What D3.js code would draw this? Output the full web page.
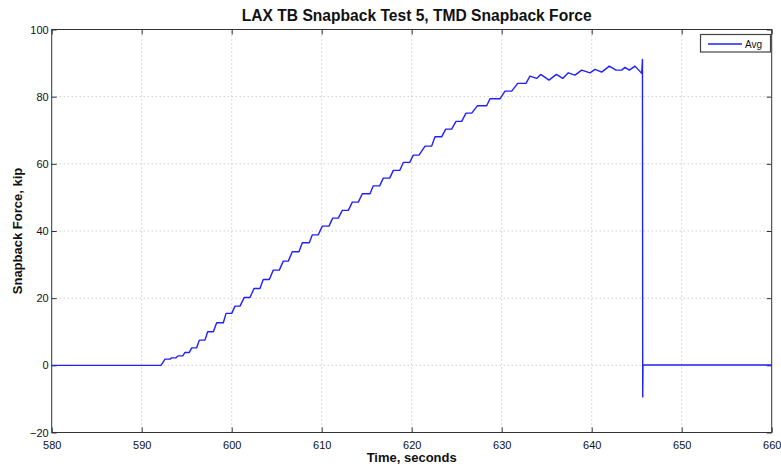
<!DOCTYPE html>
<html>
<head>
<meta charset="utf-8">
<script src="https://cdn.jsdelivr.net/npm/d3@7"></script>
<style>
  html, body { margin: 0; padding: 0; background: #fff; }
  svg { display: block; font-family: "Liberation Sans", Arial, Helvetica, sans-serif; }
</style>
</head>
<body>
<svg id="chart" width="781" height="466"></svg>
<script>
// ---- data ----
const chartTitle = "LAX TB Snapback Test 5, TMD Snapback Force";
const xLabel = "Time, seconds";
const yLabel = "Snapback Force, kip";
const seriesName = "Avg";
const xTicks = [580, 590, 600, 610, 620, 630, 640, 650, 660];
const yTicks = [-20, 0, 20, 40, 60, 80, 100];

const timeSec = [
  580, 592.14, 592.59, 593.14, 593.33, 593.81, 594.07, 594.56, 594.81, 595.29,
  595.56, 596.11, 596.40, 597.03, 597.33, 597.96, 598.33, 599.07, 599.37, 600.00,
  600.37, 600.92, 601.40, 602.03, 602.48, 603.14, 603.51, 604.18, 604.62, 605.29,
  605.73, 606.29, 606.73, 607.48, 607.84, 608.62, 608.96, 609.62, 610.07, 610.81,
  611.22, 611.84, 612.29, 612.96, 613.40, 614.07, 614.51, 615.37, 615.73, 616.44,
  616.84, 617.56, 617.96, 618.67, 619.07, 619.78, 620.18, 620.81, 621.48, 622.22,
  622.59, 623.33, 623.78, 624.44, 624.92, 625.56, 626.03, 626.67, 627.29, 628.33,
  628.70, 629.81, 630.37, 631.11, 631.78, 632.70, 633.14, 633.89, 634.33, 635.26,
  636.07, 636.78, 637.40, 638.14, 638.89, 639.81, 640.37, 641.11, 641.96, 642.70,
  643.33, 643.70, 644.18, 644.81, 645.56, 645.64, 645.67, 645.70, 660
];
const forceKip = [
  0.0, 0.0, 1.85, 1.85, 2.23, 2.23, 2.83, 2.83, 3.84, 3.84,
  5.21, 5.21, 7.50, 7.50, 9.98, 9.98, 12.66, 12.66, 15.46, 15.46,
  17.63, 17.63, 20.22, 20.22, 22.90, 22.90, 25.58, 25.58, 28.35, 28.35,
  31.03, 31.03, 33.80, 33.80, 36.48, 36.48, 38.86, 38.86, 41.45, 41.45,
  43.84, 43.84, 46.13, 46.13, 48.60, 48.60, 51.07, 51.07, 53.45, 53.45,
  55.75, 55.75, 58.04, 58.04, 60.42, 60.42, 62.60, 62.60, 65.28, 65.28,
  68.05, 68.05, 70.34, 70.34, 72.63, 72.63, 75.10, 75.10, 77.28, 77.28,
  79.36, 79.36, 81.65, 81.65, 83.95, 83.95, 86.12, 85.44, 86.63, 84.93,
  86.63, 85.44, 87.10, 86.42, 87.91, 87.10, 88.12, 87.31, 89.10, 87.91,
  87.91, 88.71, 87.91, 89.10, 86.94, 91.10, -9.40, 0.10, 0.10
];

// ---- layout ----
const margin = { left: 51.7, right: 781 - 771.7, top: 29.5, bottom: 466 - 432.5 };
const W = 781, H = 466;
const svg = d3.select("#chart");

const x = d3.scaleLinear().domain([580, 660]).range([margin.left, W - margin.right]);
const y = d3.scaleLinear().domain([-20, 100]).range([H - margin.bottom, margin.top]);

const x0 = x.range()[0], x1 = x.range()[1], y0 = y.range()[0], y1 = y.range()[1];

// grid
const grid = svg.append("g").attr("class", "grid");
grid.selectAll("line.gx").data(xTicks.slice(1, -1)).enter().append("line")
  .attr("x1", d => x(d)).attr("x2", d => x(d)).attr("y1", y0).attr("y2", y1)
  .attr("stroke", "#b8b8b8").attr("stroke-width", 1).attr("stroke-dasharray", "1,3");
grid.selectAll("line.gy").data(yTicks.slice(1, -1)).enter().append("line")
  .attr("y1", d => y(d)).attr("y2", d => y(d)).attr("x1", x0).attr("x2", x1)
  .attr("stroke", "#b8b8b8").attr("stroke-width", 1).attr("stroke-dasharray", "1,3");

// axes (ticks inward on all four sides)
const tickLen = 5;
const fmt = d => d < 0 ? "\u2212" + Math.abs(d) : String(d);
const axB = svg.append("g").attr("transform", `translate(0,${y0})`)
  .call(d3.axisBottom(x).tickValues(xTicks).tickSize(-tickLen).tickPadding(9).tickFormat(fmt));
const axT = svg.append("g").attr("transform", `translate(0,${y1})`)
  .call(d3.axisTop(x).tickValues(xTicks).tickSize(-tickLen).tickFormat(""));
const axL = svg.append("g").attr("transform", `translate(${x0},0)`)
  .call(d3.axisLeft(y).tickValues(yTicks).tickSize(-tickLen).tickPadding(3).tickFormat(fmt));
const axR = svg.append("g").attr("transform", `translate(${x1},0)`)
  .call(d3.axisRight(y).tickValues(yTicks).tickSize(-tickLen).tickFormat(""));
[axB, axT, axL, axR].forEach(a => {
  a.select(".domain").remove();
  a.selectAll(".tick line").attr("stroke", "#333");
  a.selectAll("text").attr("font-size", 11).attr("fill", "#111")
    .attr("font-family", "'Liberation Sans', Arial, sans-serif");
});
axB.selectAll("text").attr("dy", "0.7em");

// box
svg.append("rect").attr("x", x0).attr("y", y1).attr("width", x1 - x0).attr("height", y0 - y1)
  .attr("fill", "none").attr("stroke", "#333").attr("stroke-width", 1);

// line
const pts = timeSec.map((t, i) => [t, forceKip[i]]);
svg.append("path").datum(pts)
  .attr("d", d3.line().x(d => x(d[0])).y(d => y(d[1])))
  .attr("fill", "none").attr("stroke", "#2020ff").attr("stroke-width", 1.4)
  .attr("stroke-linejoin", "round");

// titles
svg.append("text").attr("x", (x0 + x1) / 2 + 5).attr("y", 21).attr("text-anchor", "middle")
  .attr("font-size", 15.6).attr("font-weight", "bold").attr("fill", "#111").text(chartTitle);
svg.append("text").attr("x", (x0 + x1) / 2).attr("y", 462).attr("text-anchor", "middle")
  .attr("font-size", 13).attr("font-weight", "bold").attr("fill", "#111").text(xLabel);
svg.append("text").attr("transform", `translate(22,${(y0 + y1) / 2}) rotate(-90)`)
  .attr("text-anchor", "middle").attr("font-size", 13).attr("font-weight", "bold")
  .attr("fill", "#111").text(yLabel);

// legend
const lg = svg.append("g");
lg.append("rect").attr("x", 700.5).attr("y", 34.5).attr("width", 70).attr("height", 17.5)
  .attr("fill", "#fff").attr("stroke", "#444").attr("stroke-width", 1.2);
lg.append("line").attr("x1", 708).attr("x2", 742).attr("y1", 44).attr("y2", 44)
  .attr("stroke", "#2020ff").attr("stroke-width", 1.4);
lg.append("text").attr("x", 745).attr("y", 47.5).attr("font-size", 10).attr("fill", "#111").text(seriesName);
</script>
</body>
</html>
